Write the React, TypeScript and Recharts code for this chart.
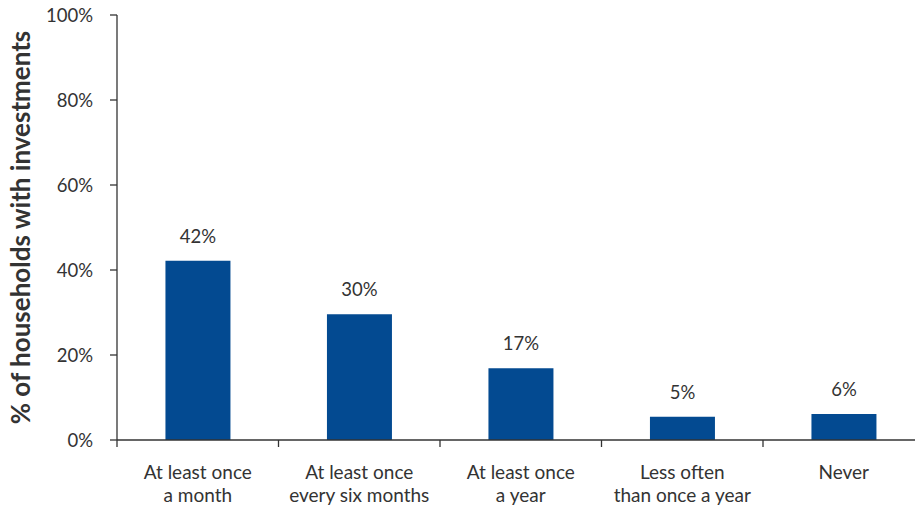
import React from 'react';
import { BarChart, Bar, XAxis, YAxis, LabelList, Label } from 'recharts';

const categories = [
  'At least once\na month',
  'At least once\nevery six months',
  'At least once\na year',
  'Less often\nthan once a year',
  'Never',
];
const values = [42.2, 29.6, 16.9, 5.5, 6.1];
const valueLabels = ['42%', '30%', '17%', '5%', '6%'];
const yTicks = [0, 20, 40, 60, 80, 100];
const yTitle = '% of households with investments';

const data = categories.map((c, i) => ({ name: c, value: values[i], label: valueLabels[i] }));

const FONT = 'Lato, "Open Sans", sans-serif';
const TEXT = '#333333';
const AXIS = '#333333';
const BAR = '#034a91';

const XTick = (props: any) => {
  const { x, y, payload, index } = props;
  const half = payload && payload.offset ? payload.offset : 80.75;
  const lines = String(payload.value).split('\n');
  return (
    <g>
      {index === 0 && (
        <line x1={x - half} x2={x - half} y1={y} y2={y + 7} stroke={AXIS} strokeWidth={1.3} />
      )}
      <line x1={x + half} x2={x + half} y1={y} y2={y + 7} stroke={AXIS} strokeWidth={1.3} />
      <text x={x} y={y + 39} textAnchor="middle" fill={TEXT} fontSize={19} fontFamily={FONT}>
        {lines.map((l, i) => (
          <tspan key={i} x={x} dy={i === 0 ? 0 : 23}>
            {l}
          </tspan>
        ))}
      </text>
    </g>
  );
};

const YTitle = (props: any) => {
  const vb = props.viewBox || {};
  const cx = 20;
  const cy = (vb.y ?? 15) + (vb.height ?? 425) / 2;
  return (
    <text
      x={cx}
      y={cy}
      transform={`rotate(-90, ${cx}, ${cy})`}
      textAnchor="middle"
      dominantBaseline="central"
      fill={TEXT}
      fontSize={26}
      fontWeight="bold"
      fontFamily={FONT}
    >
      {yTitle}
    </text>
  );
};

export default function App() {
  return (
    <div style={{ position: 'fixed', top: 0, left: 0, width: 915, height: 505, overflow: 'hidden', background: '#fff' }}>
      <BarChart
        width={930}
        height={505}
        data={data}
        margin={{ top: 15, right: 5.5, bottom: 0, left: 0 }}
        barCategoryGap="30%"
      >
        <XAxis
          dataKey="name"
          height={65}
          tickLine={false}
          tickSize={0}
          tickMargin={0}
          axisLine={{ stroke: AXIS, strokeWidth: 1.3 }}
          tick={<XTick />}
          interval={0}
        />
        <YAxis
          width={117}
          domain={[0, 100]}
          ticks={yTicks}
          tickFormatter={(v: number) => `${v}%`}
          tickSize={7}
          tickMargin={17}
          axisLine={{ stroke: AXIS, strokeWidth: 1.3 }}
          tickLine={{ stroke: AXIS, strokeWidth: 1.3 }}
          tick={{ fill: TEXT, fontSize: 18.5, fontFamily: FONT }}
        >
          <Label content={<YTitle />} />
        </YAxis>
        <Bar dataKey="value" fill={BAR} isAnimationActive={false}>
          <LabelList dataKey="label" position="top" offset={18} fill={TEXT} fontSize={18.5} fontFamily={FONT} />
        </Bar>
      </BarChart>
    </div>
  );
}
